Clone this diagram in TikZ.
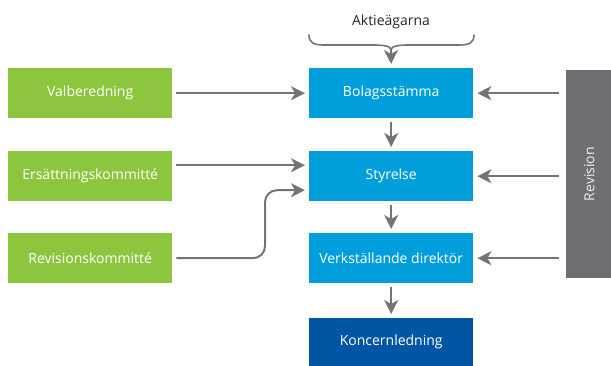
\documentclass[tikz,border=0pt]{standalone}
\usepackage{fontspec}
\setmainfont{Open Sans}
\usetikzlibrary{arrows.meta,calc}
\definecolor{grn}{HTML}{8CC63F}
\definecolor{blu}{HTML}{009EDB}
\definecolor{dblu}{HTML}{0055A4}
\definecolor{gbox}{HTML}{6E6E73}
\definecolor{arrg}{HTML}{747474}
\tikzset{
  txt/.style={font=\fontsize{14}{16}\selectfont},
  box/.style={minimum width=164pt, minimum height=50pt, inner sep=0pt, text=white, txt, anchor=north west},
  gbx/.style={box, fill=grn},
  bbx/.style={box, fill=blu},
  dbx/.style={box, fill=dblu},
  arr/.style={draw=arrg, line width=2pt, -{Stealth[length=14pt,width=14pt,inset=4pt]}, shorten >=4pt, shorten <=4pt},
}
\begin{document}
\begin{tikzpicture}[x=1pt,y=-1pt]
\useasboundingbox (0,0) rectangle (611,366);
% green
\node[gbx] (valb) at (8,68) {Valberedning};
\node[gbx] (ers) at (8,151) {Ersättningskommitté};
\node[gbx] (rk) at (8,233) {Revisionskommitté};
% blue
\node[bbx] (bol) at (309,68) {Bolagsstämma};
\node[bbx] (sty) at (309,151) {Styrelse};
\node[bbx] (vd) at (309,233) {Verkställande direktör};
\node[dbx, minimum height=48pt] (kon) at (309,318) {Koncernledning};
% revision
\node[fill=gbox, minimum width=46pt, minimum height=208pt, inner sep=0pt, anchor=north west] (rev) at (566,70) {};
\node[rotate=90, text=white!88!gbox, txt] (revt) at (rev.center) {Revision};
% top
\node[txt, text=black!85] (akt) at (391,22) {Aktieägarna};
\coordinate (bt) at (391,50);
\draw[arrg, line width=1.6pt, line cap=round] (309,35) .. controls (309,43) and (314,45) .. (324,45) -- (372,45) .. controls (384,45) and (391,46) .. (bt);
\draw[arrg, line width=1.6pt, line cap=round] (474,35) .. controls (474,43) and (469,45) .. (459,45) -- (410,45) .. controls (398,45) and (391,46) .. (bt);
\draw[arr, shorten <=0pt] (bt) -- (bol.north);
% left arrows
\draw[arr] (valb.east) -- (bol.west);
\draw[arr] ([yshift=11pt]ers.east) -- ([yshift=11pt]sty.west);
\draw[arr, rounded corners=12pt] (rk.east) -| ([xshift=-44pt,yshift=-14pt]sty.west) -- ([yshift=-14pt]sty.west);
% down arrows
\draw[arr] (bol.south) -- (sty.north);
\draw[arr] (sty.south) -- (vd.north);
\draw[arr] (vd.south) -- (kon.north);
% revision arrows
\draw[arr, shorten <=7pt] (rev.west |- bol.east) -- (bol.east);
\draw[arr, shorten <=7pt] (rev.west |- sty.east) -- (sty.east);
\draw[arr, shorten <=7pt] (rev.west |- vd.east) -- (vd.east);
\end{tikzpicture}
\end{document}
